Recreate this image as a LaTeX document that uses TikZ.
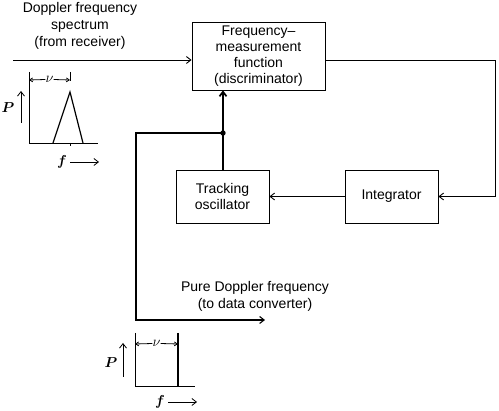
\documentclass[tikz,border=0pt]{standalone}
\usepackage{fontspec}
\setmainfont{Liberation Sans}
\usepackage{amsmath}
\usetikzlibrary{arrows.meta}
\begin{document}
\begin{tikzpicture}[x=1pt,y=-1pt,
  blk/.style={draw,line width=0.9pt,align=center,inner sep=0pt,font=\fontsize{14}{16}\selectfont},
  lbl/.style={align=center,inner sep=0pt,font=\fontsize{14}{17}\selectfont},
  conn/.style={line width=0.9pt},
  arr/.style={-{Straight Barb[length=4.5pt,width=7pt]}},
  thin/.style={line width=0.8pt},
  sym/.style={inner sep=0pt,font=\fontsize{14}{14}\selectfont}]
\useasboundingbox (0,0) rectangle (499,411);
% blocks
\node[blk,minimum width=133pt,minimum height=68pt] (fm) at (258.5,56) {Frequency--\\measurement\\function\\(discriminator)};
\node[blk,minimum width=93pt,minimum height=53pt] (tr) at (222.5,196.5) {Tracking\\oscillator};
\node[blk,minimum width=93pt,minimum height=53pt] (in) at (391.5,196.5) {Integrator};
% input
\node[lbl] (inl) at (80,26) {Doppler frequency\\spectrum\\(from receiver)};
\coordinate (src) at (13,60);
\draw[conn,arr] (src) -- (src -| fm.west);
% feedback loop
\coordinate (rc) at (495,60);
\draw[conn,arr] (fm.east |- rc) -- (rc) |- (in.east);
\draw[conn,arr] (in.west) -- (tr.west -| tr.east);
\coordinate (j) at (223,133);
\draw[line width=1.2pt] (tr.north -| j) -- (j);
\draw[line width=1.7pt,arr] (j) -- (j |- fm.south);
\fill (j) circle (2.7pt);
\coordinate (oc) at (136,133);
\coordinate (oe) at (265,320);
\draw[line width=1.1pt,arr] (j) -- (oc) |- (oe);
\node[lbl] (outl) at (255,296) {Pure Doppler frequency\\(to data converter)};
% spectrum 1
\coordinate (a1) at (29,72);
\coordinate (b1) at (29,143);
\coordinate (e1) at (98,143);
\draw[thin] (a1) -- (b1) -- (e1);
\coordinate (t1l) at (53,143);
\coordinate (t1p) at (70,92);
\coordinate (t1r) at (83,143);
\draw[line width=1.2pt] (t1l) -- (t1p) -- (t1r);
\draw[thin] (70,143) -- (70,146);
\draw[thin] (70,72) -- (70,81);
\node[sym] (nu1) at (49.5,79.5) {$\nu$};
\draw[thin,-{Straight Barb[length=3pt,width=4pt]}] (nu1.west) -- (29,80);
\draw[thin,-{Straight Barb[length=3pt,width=4pt]}] (nu1.east) -- (70,80);
\node[sym] (p1) at (8,108) {$\boldsymbol{P}$};
\coordinate (p1a) at (21,123);
\coordinate (p1b) at (21,91);
\draw[thin,arr] (p1a) -- (p1b);
\node[sym] (f1) at (62,162) {$\boldsymbol{f}$};
\coordinate (f1b) at (99,162);
\draw[thin,arr] (f1.east) ++(3,0) coordinate (f1a) -- (f1a -| f1b);
% spectrum 2
\coordinate (a2) at (135,333);
\coordinate (b2) at (135,386);
\coordinate (e2) at (195,386);
\draw[thin] (a2) -- (b2) -- (e2);
\draw[line width=1.4pt] (178,333) -- (178,386);
\node[sym] (nu2) at (156.5,343.5) {$\nu$};
\draw[thin,-{Straight Barb[length=3pt,width=4pt]}] (nu2.west) -- (135,344);
\draw[thin,-{Straight Barb[length=3pt,width=4pt]}] (nu2.east) -- (178,344);
\node[sym] (p2) at (111,363) {$\boldsymbol{P}$};
\coordinate (p2a) at (123,377);
\coordinate (p2b) at (123,343);
\draw[thin,arr] (p2a) -- (p2b);
\node[sym] (f2) at (160,402) {$\boldsymbol{f}$};
\coordinate (f2b) at (197,402);
\draw[thin,arr] (f2.east) ++(3,0) coordinate (f2a) -- (f2a -| f2b);
\end{tikzpicture}
\end{document}
